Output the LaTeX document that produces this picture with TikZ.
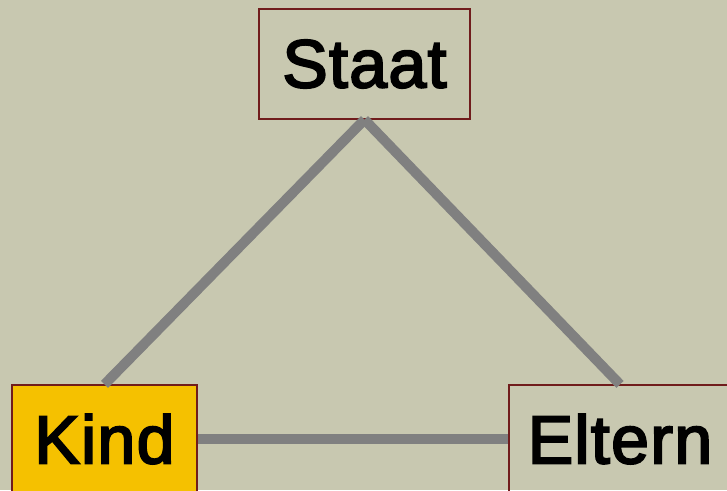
\documentclass[tikz,border=0pt]{standalone}
\usepackage{fontspec}
\setmainfont{Liberation Sans}
\newfontfamily\gras[FakeBold=3,LetterSpace=2]{Liberation Sans}
\usepackage{tikz}
\usetikzlibrary{positioning}
\usepackage{xcolor}

\definecolor{fond}{RGB}{200,200,176}
\definecolor{bord}{RGB}{112,28,28}
\definecolor{jaune}{RGB}{245,193,0}
\definecolor{trait}{RGB}{128,128,128}

\tikzset{
    boite/.style={draw=bord, line width=0.9pt, inner sep=0pt, font=\gras\fontsize{51}{60}\selectfont},
    lien/.style={draw=trait, line width=7.5pt}
}

\begin{document}
\begin{tikzpicture}[x=0.75pt, y=-0.75pt]

                % Fond
                \fill[fond] (0,0) rectangle (727,490);
                \useasboundingbox (0,0) rectangle (727,490);

                % Boîtes
                \node[boite, minimum width=211*0.75pt, minimum height=110*0.75pt] (staat) at (364.5,64) {Staat};
                \node[boite, fill=jaune, minimum width=185*0.75pt, minimum height=108*0.75pt] (kind) at (104.5,439) {Kind};
                \node[boite, minimum width=222*0.75pt, minimum height=108*0.75pt] (eltern) at (620,439) {Eltern};

                % Liens
                \draw[lien] (staat.south) -- (kind.north);
                \draw[lien] (staat.south) -- (eltern.north);
                \draw[lien] (kind.east) -- (eltern.west);

\end{tikzpicture}
\end{document}
